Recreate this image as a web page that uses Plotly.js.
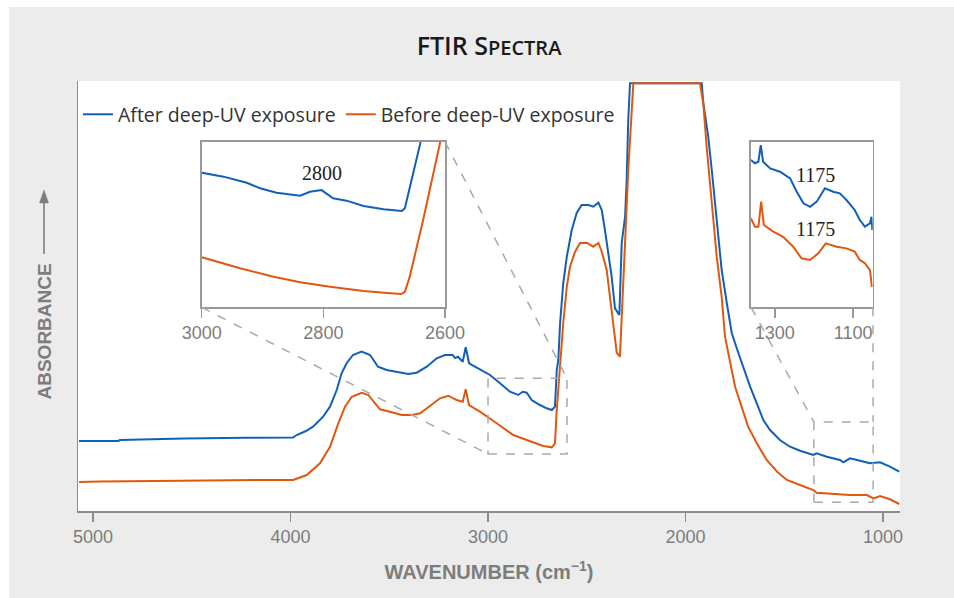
<!DOCTYPE html>
<html>
<head>
<meta charset="utf-8">
<script src="https://cdn.plot.ly/plotly-3.0.1.min.js"></script>
<style>html,body{margin:0;padding:0;background:#fff;}#chart{width:954px;height:598px;}</style>
</head>
<body>
<div id="chart"></div>
<script>
// ---- Main spectrum: After deep-UV exposure ----
const afterWn = [5071,4873,4863,4539,4230,4043,3987,3969,3922,3886,3835,3800,3766,3741,3715,3684,3640,3597,3557,3513,3462,3404,3361,3310,3260,3218,3179,3167,3152,3128,3113,3096,3041,2990,2939,2889,2847,2824,2804,2779,2737,2703,2677,2661,2652,2644,2635,2619,2601,2576,2551,2526,2492,2467,2441,2424,2408,2391,2374,2357,2335,2323,2306,2298,2290,2281,1918,1910,1885,1867,1851,1834,1817,1791,1766,1741,1716,1673,1639,1606,1572,1522,1471,1420,1353,1336,1285,1218,1201,1167,1116,1066,1015,965,918];
const afterAbs = [16.28,16.28,16.5,16.86,17.02,17.09,17.09,17.67,18.6,19.6,21.93,24.26,28.14,32.09,34.42,36.28,37.05,36.28,33.56,32.79,32.4,31.86,32.16,33.56,35.51,36.28,36.28,35.58,35.88,34.72,38.07,34.35,32.95,31.63,29.7,27.74,26.98,27.74,27.51,25.81,24.65,23.88,23.49,24.26,32.79,35.12,43.72,53.02,59.14,65.35,69.3,71.16,71.16,70.77,71.7,70.0,65.35,60.0,54.49,47.14,45.58,62.33,68.44,76.98,90.93,99.47,99.47,94.88,87.05,79.3,71.63,63.79,56.05,48.37,41.4,37.9,34.4,28.91,25.05,21.16,18.84,16.51,14.95,14.02,13.02,13.42,12.63,11.86,11.33,12.26,11.7,11.09,11.33,10.3,9.14];

// ---- Main spectrum: Before deep-UV exposure ----
const beforeWn = [5071,4965,4559,4357,4154,3987,3918,3851,3800,3758,3724,3690,3640,3606,3572,3547,3496,3437,3386,3344,3294,3243,3201,3159,3128,3113,3096,3041,2956,2872,2804,2720,2677,2661,2652,2635,2619,2601,2585,2559,2534,2500,2467,2441,2424,2399,2382,2365,2348,2332,2318,2301,2290,2272,2264,1927,1910,1893,1876,1859,1842,1817,1800,1775,1749,1716,1683,1639,1589,1536,1487,1420,1353,1336,1251,1167,1082,1048,1015,965,918];
const beforeAbs = [6.74,6.86,7.05,7.21,7.21,7.21,8.37,11.09,14.95,20.4,24.26,26.58,27.51,26.98,25.05,23.65,23.09,22.33,22.33,22.72,24.42,26.21,26.81,25.81,25.42,28.3,24.65,23.09,20.4,17.67,16.51,15.12,14.81,15.74,23.49,34.42,43.72,52.16,56.81,60.3,62.33,62.4,61.47,62.33,60.3,56.05,49.84,42.86,36.74,35.88,52.16,67.67,79.3,93.26,99.47,99.47,94.88,84.72,75.42,67.67,59.14,49.84,40.53,35.12,28.91,24.26,19.6,15.74,11.86,9.14,7.21,6.05,4.88,4.26,3.95,3.72,3.72,2.95,3.49,2.72,1.63];

// ---- Inset 3000–2600 cm-1 ----
const inset1AfterWn = [3000,2964,2926,2904,2877,2838,2822,2803,2784,2762,2734,2701,2671,2666,2655,2639,2620];
const inset1AfterAbs = [81.3,78.9,75.2,71.9,69.2,67.4,69.8,70.8,65.8,64.4,61.2,59.2,58.2,59.8,76.9,100,131];
const inset1BeforeWn = [3000,2937,2882,2838,2789,2734,2690,2672,2666,2658,2636,2609,2600];
const inset1BeforeAbs = [30.2,23.6,18.5,15.1,12.4,9.8,8.5,8.0,9.4,18.5,52.7,100,113];

// ---- Inset 1360–1050 cm-1 ----
const inset2AfterWn = [1361,1351,1342,1336,1330,1312,1287,1261,1244,1227,1210,1193,1172,1151,1134,1117,1096,1083,1070,1057,1053,1051];
const inset2AfterAbs = [88.9,87.0,87.9,98.0,87.9,83.9,81.9,77.9,69.8,62.8,60.7,63.8,71.9,69.8,68.8,64.8,58.8,52.7,48.7,50.7,54.7,46.7];
const inset2BeforeWn = [1361,1351,1342,1335,1328,1304,1279,1253,1232,1210,1189,1170,1142,1117,1096,1083,1070,1057,1052];
const inset2BeforeAbs = [53.7,48.7,48.7,63.8,49.7,45.7,42.6,36.6,29.6,28.6,32.6,38.6,36.6,35.6,33.6,28.6,26.6,22.5,12.4];

// ---- Labels ----
const mainTicks = [5000,4000,3000,2000,1000];
const inset1Ticks = [3000,2800,2600];
const inset2Ticks = [1300,1100];
const peakLabels = [
  {axis:'1', wn:2802, abs:81.1, text:'2800'},
  {axis:'2', wn:1195, abs:79.9, text:'1175'},
  {axis:'2', wn:1195, abs:47.3, text:'1175'}
];
const zoomBoxes = [
  {x0:3000, x1:2600, y0:13.26, y1:30.86},
  {x0:1350, x1:1050, y0:2.02, y1:20.70}
];
const connectors = [
  {x0:4450, y0:47.37, x1:3000, y1:13.26},
  {x0:3218, y0:85.88, x1:2600, y1:30.86},
  {x0:1668, y0:47.37, x1:1350, y1:20.70},
  {x0:1051, y0:47.37, x1:1050, y1:20.70}
];

const BLUE = '#1060b8', ORANGE = '#e2570f';
const AXC = '#8c8c8c', TXC = '#7d7d7d';

const traces = [
  {x: afterWn, y: afterAbs, name: 'After deep-UV exposure', type: 'scatter', mode: 'lines',
   line: {color: BLUE, width: 2}, xaxis: 'x', yaxis: 'y'},
  {x: beforeWn, y: beforeAbs, name: 'Before deep-UV exposure', type: 'scatter', mode: 'lines',
   line: {color: ORANGE, width: 2}, xaxis: 'x', yaxis: 'y'},
  {x: inset1AfterWn, y: inset1AfterAbs, showlegend: false, type: 'scatter', mode: 'lines',
   line: {color: BLUE, width: 2}, xaxis: 'x2', yaxis: 'y2', hoverinfo: 'skip'},
  {x: inset1BeforeWn, y: inset1BeforeAbs, showlegend: false, type: 'scatter', mode: 'lines',
   line: {color: ORANGE, width: 2}, xaxis: 'x2', yaxis: 'y2', hoverinfo: 'skip'},
  {x: inset2AfterWn, y: inset2AfterAbs, showlegend: false, type: 'scatter', mode: 'lines',
   line: {color: BLUE, width: 2}, xaxis: 'x3', yaxis: 'y3', hoverinfo: 'skip'},
  {x: inset2BeforeWn, y: inset2BeforeAbs, showlegend: false, type: 'scatter', mode: 'lines',
   line: {color: ORANGE, width: 2}, xaxis: 'x3', yaxis: 'y3', hoverinfo: 'skip'}
];

const tickFont = {family: 'Liberation Sans, Arial, sans-serif', size: 18, color: TXC};
const insetAxisBase = {showline: true, mirror: true, linecolor: '#999', linewidth: 1.5,
  showgrid: false, zeroline: false, fixedrange: true};

// pixel helpers for paper-referenced decorations
const px = v => (v - 78) / 822;
const py = v => (511 - v) / 430;

const shapes = [
  // white outer margins (top and left)
  {type:'rect', xref:'paper', yref:'paper', x0:-0.2, x1:1.2, y0:py(0), y1:py(7),
   fillcolor:'#ffffff', line:{width:0}, layer:'below'},
  {type:'rect', xref:'paper', yref:'paper', x0:px(0), x1:px(9), y0:-0.3, y1:1.3,
   fillcolor:'#ffffff', line:{width:0}, layer:'below'},
  // arrow beside the y-axis title
  {type:'line', xref:'paper', yref:'paper', x0:px(44), x1:px(44), y0:py(254), y1:py(200),
   line:{color:TXC, width:1.6}},
  {type:'path', xref:'paper', yref:'paper',
   path:'M' + px(39.5) + ',' + py(203) + ' L' + px(48.5) + ',' + py(203) + ' L' + px(44) + ',' + py(190) + ' Z',
   fillcolor:TXC, line:{color:TXC, width:0.5}}
];
zoomBoxes.forEach(b => shapes.push({type:'rect', xref:'x', yref:'y', x0:b.x0, x1:b.x1, y0:b.y0, y1:b.y1,
  line:{color:'#aaaaaa', width:1.5, dash:'dash'}}));
connectors.forEach(c => shapes.push({type:'line', xref:'x', yref:'y', x0:c.x0, y0:c.y0, x1:c.x1, y1:c.y1,
  line:{color:'#aaaaaa', width:1.5, dash:'dash'}}));

const annotations = peakLabels.map(p => ({
  xref:'x' + (p.axis === '1' ? '2' : '3'), yref:'y' + (p.axis === '1' ? '2' : '3'),
  x:p.wn, y:p.abs, text:p.text, showarrow:false,
  font:{family:'Liberation Serif, serif', size:20, color:'#222'}
}));
// y-axis title
annotations.push({xref:'paper', yref:'paper', x:px(31), y:py(332), text:'ABSORBANCE', textangle:-90,
  showarrow:false, font:{family:'Liberation Sans, sans-serif', size:19, color:TXC, weight:700}});

const layout = {
  width: 954, height: 598,
  paper_bgcolor: '#ececec', plot_bgcolor: '#ffffff',
  margin: {l: 78, r: 54, t: 81, b: 87, pad: 0},
  title: {text: "FTIR S<span style='font-size:20px'>PECTRA</span>",
    font: {family: 'Open Sans, sans-serif', size: 25, color: '#1a1a1a', weight: 600},
    x: 0.5, xref: 'paper', y: 1 - 46/598, yref: 'container', yanchor: 'middle'},
  showlegend: true,
  legend: {orientation: 'h', x: 0, xanchor: 'left', y: py(114.6), yanchor: 'middle',
    font: {family: 'Open Sans, sans-serif', size: 19.5, color: '#333'}, bgcolor: 'rgba(0,0,0,0)',
    traceorder: 'normal'},
  xaxis: {range: [5076, 914], tickvals: mainTicks, ticks: 'outside', ticklen: 9, tickwidth: 1.5,
    tickcolor: AXC, showline: true, linecolor: AXC, linewidth: 1.5, showgrid: false, zeroline: false,
    tickfont: tickFont, fixedrange: true,
    title: {text: 'WAVENUMBER (cm<sup>−1</sup>)', font: {family: 'Liberation Sans, sans-serif', size: 20, color: TXC, weight: 700}, standoff: 19}},
  yaxis: {range: [0, 100], showticklabels: false, ticks: '', showline: true, linecolor: AXC, linewidth: 1.5,
    showgrid: false, zeroline: false, fixedrange: true},
  xaxis2: Object.assign({}, insetAxisBase, {domain: [0.1505, 0.4465], anchor: 'y2', range: [3000, 2600],
    tickvals: inset1Ticks, ticks: 'outside', ticklen: 9, tickwidth: 1.5, tickcolor: '#999', tickfont: tickFont}),
  yaxis2: Object.assign({}, insetAxisBase, {domain: [0.4737, 0.8588], anchor: 'x2', range: [0, 100],
    showticklabels: false, ticks: ''}),
  xaxis3: Object.assign({}, insetAxisBase, {domain: [0.8187, 0.9668], anchor: 'y3', range: [1361, 1050],
    tickvals: inset2Ticks, ticks: 'outside', ticklen: 9, tickwidth: 1.5, tickcolor: '#999', tickfont: tickFont}),
  yaxis3: Object.assign({}, insetAxisBase, {domain: [0.4737, 0.8588], anchor: 'x3', range: [0, 100],
    showticklabels: false, ticks: ''}),
  shapes: shapes,
  annotations: annotations
};

Plotly.newPlot('chart', traces, layout, {displayModeBar: false, staticPlot: true});
</script>
</body>
</html>
